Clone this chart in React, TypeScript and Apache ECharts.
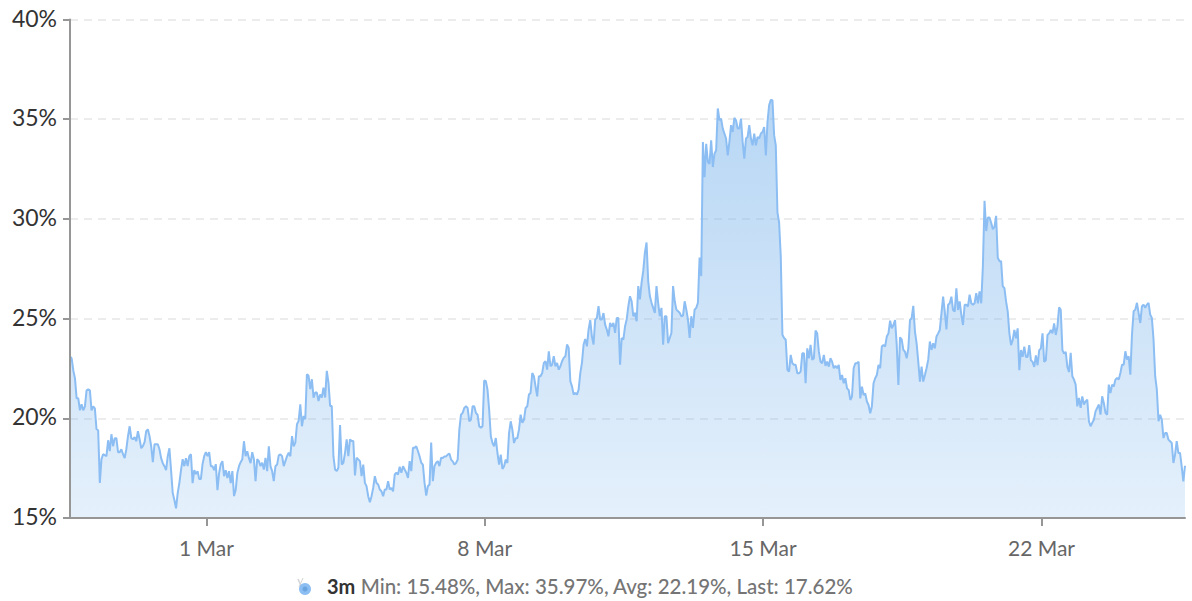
import React, { useEffect, useRef } from "react";
import * as echarts from "echarts";

const seriesStart = Date.UTC(2021, 1, 25, 13, 40);
const seriesEnd = Date.UTC(2021, 2, 25, 14, 38);
const tickDates = [Date.UTC(2021, 2, 1), Date.UTC(2021, 2, 8), Date.UTC(2021, 2, 15), Date.UTC(2021, 2, 22)];
const tickLabels = ["1 Mar", "8 Mar", "15 Mar", "22 Mar"];
const seriesName = "3m";
const statsText = "Min: 15.48%, Max: 35.97%, Avg: 22.19%, Last: 17.62%";

const part1 = [23.1,23.0,22.4,22.0,21.0,21.0,20.4,20.7,20.4,20.6,21.4,21.45,21.4,20.4,20.6,20.5,19.45,19.4,16.76,17.95,18.2,18.15,18.1,18.9,18.35,19.2,18.6,19.0,19.0,18.3,18.3,18.45,18.2,18.0,18.45,19.1,19.6,19.0,18.95,19.05,18.85,19.35,18.95,18.5,18.6,18.8,19.35,19.45,19.1,18.6,17.8,18.7,18.7,18.7,18.45,18.0,17.75,17.6,17.4,18.1,18.5,17.4,16.25,15.9,15.48,16.25,16.75,17.4,17.95,17.6,18.0,17.6,18.1,18.2,16.75,17.4,17.2,17.35,16.95,16.95,17.7,18.1,18.3,18.1,18.3,17.6,17.6,17.4,17.7,16.4,17.25,17.7,17.85,17.1,17.4,17.0,17.35,16.75,17.35,16.1,16.4,17.25,17.6,17.8,17.95,18.85,18.1,18.35,18.0,17.75,18.3,17.95,16.85,17.95];
const part2 = [17.85,17.6,17.77,17.43,18.02,17.35,18.6,17.6,17.35,16.85,17.6,17.68,18.14,18.19,18.1,17.6,17.85,18.1,18.27,18.1,19.11,18.6,18.78,19.7,19.87,20.7,19.6,20.12,19.95,22.21,22.13,21.46,21.96,21.04,21.29,21.29,20.87,21.2,21.04,21.54,21.04,22.38,21.8,20.62,20.62,18.1,17.43,17.35,17.52,19.66,17.68,17.77,18.27,18.94,18.1,18.94,18.86,18.86,17.13,18.02,17.94,17.85,17.1,17.68,16.76,16.59,16.09,15.79,16.09,16.51,17.1,16.76,16.68,16.43,16.34,16.09,16.43,16.43,16.85,16.43,16.51,16.34,17.18,17.27,17.18,17.57,17.27,17.6,17.43,17.27,17.01,17.85,17.35,18.52,18.52,18.6,18.36,18.1,17.77,17.68,16.76,16.12,16.59,16.68,18.78,16.85,17.6,17.77,17.85,17.6,18.02];
const part3 = [18.01,18.09,18.09,18.18,18.23,17.93,17.84,17.68,17.76,17.93,19.43,20.18,20.27,20.52,20.6,20.52,19.85,19.93,20.6,20.6,20.27,20.18,19.6,19.52,19.6,21.9,21.86,21.44,20.43,19.1,18.76,18.6,19.01,18.26,17.68,18.18,17.46,17.6,17.93,17.76,19.26,19.85,19.43,18.76,19.0,19.0,19.43,20.18,19.77,19.93,20.52,20.6,21.19,21.27,22.27,22.11,21.6,21.1,22.11,22.11,22.27,22.78,22.86,22.44,23.36,22.61,22.69,23.11,22.61,22.78,22.44,22.61,22.86,23.03,23.11,23.7,23.53,21.86,21.6,21.19,21.27,21.19,21.44,22.27,22.78,23.7,23.98,23.61,24.45,24.92,24.11,23.7,24.95,25.03,25.62,24.95,24.95,25.28,24.7,24.45,24.11,24.78,24.6,24.78,24.28,25.03,25.03,22.69,24.03,23.95,24.6,24.95,25.62,26.12];
const part4 = [25.87,25.12,25.29,24.87,26.63,25.96,26.8,27.39,28.31,28.82,26.88,26.13,25.79,25.54,25.29,26.63,25.79,25.12,25.54,23.69,25.12,25.12,23.77,24.03,24.28,26.63,25.87,25.45,25.37,25.29,25.12,25.15,25.87,25.45,24.95,24.03,25.12,24.53,25.45,25.54,25.79,28.06,27.13,33.86,32.09,33.77,32.85,32.76,33.94,32.6,33.27,33.44,35.54,34.95,35.03,34.53,34.28,34.03,33.18,33.86,34.7,34.36,35.07,34.95,34.53,34.53,35.03,33.86,33.02,34.03,34.11,34.7,34.03,33.69,34.28,33.69,34.11,34.03,34.28,34.36,34.61,33.18,34.87,35.71,35.97,35.95,34.2,33.69,30.33,29.82,28.14,24.19,24.03,23.94,22.43,22.34,23.18,22.76,22.68,22.68,22.26,22.26];
const part5 = [22.34,23.26,23.26,21.76,23.51,23.01,23.68,22.93,23.01,24.4,24.26,23.34,22.84,22.76,23.18,22.63,22.84,22.59,23.01,22.84,22.51,22.63,22.51,22.68,21.92,22.17,21.76,22.01,21.5,21.42,20.92,21.09,22.51,22.76,22.76,22.84,21.0,21.59,21.17,21.25,20.84,20.67,20.25,20.59,21.76,22.01,22.17,22.68,22.51,23.6,23.68,23.6,24.1,24.26,24.9,24.52,24.68,24.93,23.68,21.67,24.06,23.96,23.43,23.34,23.01,23.51,24.93,25.02,25.64,24.35,23.76,22.84,21.84,22.59,21.84,22.17,22.51,22.93,23.85,23.43,23.76,23.51,24.1,24.26,24.43,25.27,26.1,25.35,24.46,25.69,25.77,26.1,25.43,25.35,26.52,25.43];
const part6 = [25.86,25.19,24.68,25.69,25.69,25.61,26.2,25.77,25.69,25.77,26.28,25.77,26.36,25.77,27.63,30.91,29.39,30.07,30.07,29.81,29.48,29.6,30.15,28.05,27.88,27.88,26.62,26.53,25.86,25.35,24.26,23.67,23.92,24.43,24.01,24.51,22.41,23.42,23.08,23.59,23.08,23.08,23.67,22.91,22.83,22.58,23.16,22.66,23.42,23.5,24.26,22.83,22.91,24.18,24.26,24.43,24.26,24.76,24.18,24.6,25.57,25.44,23.42,23.25,23.33,22.58,22.32];
const part7 = [23.28,22.11,21.94,21.69,20.6,21.02,20.52,21.1,20.69,20.85,20.94,19.85,19.6,19.77,19.93,20.35,20.52,20.69,20.18,21.1,20.77,20.27,20.18,21.69,21.27,21.69,21.6,21.94,22.02,21.94,22.27,22.69,22.69,23.36,22.94,23.11,22.19,24.2,25.37,25.45,25.79,25.28,24.78,25.62,25.7,25.54,25.7,25.79,25.2,25.03,23.95,22.11,21.44,19.85,20.18,19.93,19.01,19.26,19.26,18.93,18.85,18.76,17.76,18.18,18.85,18.26,18.26,17.59,16.84,17.62];

const values = [...part1, ...part2, ...part3, ...part4, ...part5, ...part6, ...part7];
const stepMs = (seriesEnd - seriesStart) / (values.length - 1);
const points = values.map((v, i) => [seriesStart + i * stepMs, v]);

const FONT = "Lato, 'Open Sans', sans-serif";
const AXIS_COLOR = "#969696";

export default function App() {
  const ref = useRef<HTMLDivElement>(null);
  useEffect(() => {
    document.body.style.margin = "0";
    const chart = echarts.init(ref.current!, undefined, { renderer: "svg" });
    chart.setOption({
      animation: false,
      backgroundColor: "#ffffff",
      grid: { left: 70, right: 7, top: 19.5, bottom: 83 },
      xAxis: [
        {
          type: "value",
          min: seriesStart,
          max: seriesEnd,
          axisLine: { show: false },
          axisTick: { show: false },
          axisLabel: {
            show: true,
            customValues: tickDates,
            margin: 19,
            fontFamily: FONT,
            fontSize: 21,
            color: "#666666",
            formatter: (v: number) => tickLabels[tickDates.indexOf(v)] ?? "",
          },
          splitLine: { show: false },
        },
        {
          type: "value",
          position: "bottom",
          z: 10,
          min: seriesStart,
          max: seriesEnd,
          axisLine: { show: true, lineStyle: { color: AXIS_COLOR, width: 2 } },
          axisTick: { show: true, length: 8, customValues: tickDates, lineStyle: { color: AXIS_COLOR, width: 2 } },
          axisLabel: { show: false },
          splitLine: { show: false },
        },
      ],
      yAxis: [
        {
          type: "value",
          min: 15,
          max: 40,
          interval: 5,
          axisLine: { show: false },
          axisTick: { show: false },
          axisLabel: {
            margin: 13,
            fontFamily: FONT,
            fontSize: 23,
            color: "#333333",
            formatter: (v: number) => `{v|${v}%}`,
            rich: { v: { fontFamily: FONT, fontSize: 23, color: "#333333", padding: [0, 0, 4, 0] } },
          },
          splitLine: {
            show: true,
            showMinLine: false,
            lineStyle: { color: "#ececec", width: 2, type: [8, 6] },
          },
        },
        {
          type: "value",
          position: "left",
          z: 10,
          min: 15,
          max: 40,
          interval: 5,
          axisLine: { show: true, lineStyle: { color: AXIS_COLOR, width: 2 } },
          axisTick: { show: true, length: 7, lineStyle: { color: AXIS_COLOR, width: 2 } },
          axisLabel: { show: false },
          splitLine: { show: false },
        },
      ],
      series: [
        {
          name: seriesName,
          type: "line",
          data: points,
          showSymbol: false,
          symbol: "none",
          z: 3,
          lineStyle: { color: "#8cbef3", width: 2 },
          itemStyle: { color: "#8cbef3" },
          areaStyle: {
            color: new echarts.graphic.LinearGradient(0, 0, 0, 1, [
              { offset: 0, color: "rgba(124,181,236,0.55)" },
              { offset: 1, color: "rgba(124,181,236,0.2)" },
            ]),
            opacity: 1,
          },
        },
      ],
      graphic: [
        { type: "line", shape: { x1: 298, y1: 579, x2: 302, y2: 588 }, style: { stroke: "#d4d4d4", lineWidth: 1.5 } },
        { type: "line", shape: { x1: 303, y1: 578, x2: 299, y2: 587 }, style: { stroke: "#d4d4d4", lineWidth: 1 } },
        { type: "circle", shape: { cx: 305, cy: 589, r: 6 }, style: { fill: "#8cbef3" } },
        { type: "circle", shape: { cx: 305, cy: 589, r: 2.5 }, style: { fill: "#6aa5e0" } },
        {
          type: "text",
          x: 327,
          y: 586,
          style: {
            text: `{a|${seriesName}} {b|${statsText}}`,
            verticalAlign: "middle",
            rich: {
              a: { fontFamily: FONT, fontSize: 20, fontWeight: 700, fill: "#333333", color: "#333333", padding: [0, 2, 0, 0] },
              b: { fontFamily: FONT, fontSize: 20.5, fontWeight: 500, fill: "#757575", color: "#757575" },
            },
          },
        },
      ],
    });
    return () => chart.dispose();
  }, []);
  return <div ref={ref} style={{ width: 1192, height: 601 }} />;
}
